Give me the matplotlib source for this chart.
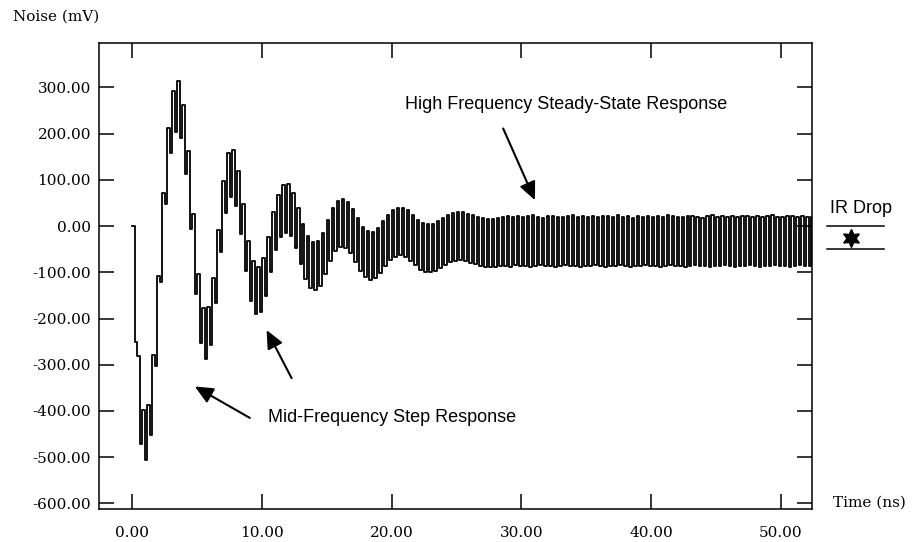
import numpy as np
import matplotlib
matplotlib.use("Agg")
import matplotlib.pyplot as plt
from matplotlib import transforms

# sampling step of the trace (half of the high-frequency ripple period), ns
time_step_ns = 0.1925

# noise trace, mV (one value per half ripple period)
noise_mv = [
    0, -250, -280, -472, -398, -505, -388, -452, -278, -302,
    -108, -122, 72, 48, 212, 158, 292, 203, 314, 190,
    262, 113, 162, -7, 27, -147, -103, -252, -178, -288,
    -176, -257, -113, -167, -8, -57, 97, 28, 158, 63,
    165, 43, 120, -17, 47, -97, -33, -162, -76, -190,
    -88, -186, -70, -152, -23, -100, 30, -52, 67, -24,
    88, -14, 90, -22, 72, -47, 40, -82, 5, -114,
    -22, -134, -34, -139, -32, -130, -14, -104, 14, -76,
    40, -55, 55, -46, 58, -47, 53, -58, 37, -77,
    17, -97, -1, -111, -11, -116, -12, -113, -4, -101,
    10, -87, 24, -74, 35, -66, 40, -63, 40, -66,
    34, -75, 24, -85, 14, -94, 7, -99, 4, -100,
    5, -97, 10, -91, 17, -84, 23, -78, 28, -75,
    30, -74, 30, -75, 27, -79, 23, -83, 19, -86,
    17, -88, 15, -89, 15,
    # steady state
    -88, 17, -87, 19, -86, 21, -88, 20, -85, 22,
    -87, 19, -86, 21, -88, 23, -87, 20, -85, 18,
    -86, 21, -87, 22, -88, 20, -86, 19, -85, 21,
    -87, 23, -86, 20, -88, 22, -87, 19, -86, 21,
    -85, 20, -87, 22, -88, 21, -86, 19, -87, 23,
    -85, 20, -86, 21, -88, 18, -87, 22, -86, 20,
    -85, 21, -87, 19, -86, 22, -88, 20, -87, 23,
    -85, 21, -86, 19, -87, 20, -88, 22, -86, 21,
    -85, 20, -87, 18, -86, 21, -88, 23, -87, 20,
    -86, 22, -85, 19, -87, 21, -88, 20, -86, 22,
    -87, 21, -85, 19, -86, 22, -88, 20, -87, 21,
    -86, 23, -85, 20, -87, 19, -86, 21, -88, 22,
    -87, 20, -85, 21, -86, 19, -87, 20,
]

x_ticks = [0, 10, 20, 30, 40, 50]
y_ticks = [300, 200, 100, 0, -100, -200, -300, -400, -500, -600]
ir_drop_levels = [0, -50]

time_ns = np.arange(len(noise_mv)) * time_step_ns

plt.rcParams['axes.unicode_minus'] = False
serif = 'DejaVu Serif'
sans = 'Liberation Sans'

fig = plt.figure(figsize=(9.15, 5.42), dpi=100)
ax = fig.add_axes([0.1085, 0.0609, 0.7792, 0.8598])

ax.plot(time_ns, noise_mv, color='black', linewidth=1.3,
        drawstyle='steps-post')

ax.set_xlim(-2.54, 52.43)
ax.set_ylim(-612, 396)
ax.set_xticks(x_ticks)
ax.set_yticks(y_ticks)
ax.set_xticklabels(['%.2f' % v for v in x_ticks], family=serif, fontsize=11)
ax.set_yticklabels(['%.2f' % v for v in y_ticks], family=serif, fontsize=11)
ax.tick_params(axis='both', direction='in', length=11, width=1.1,
               top=True, right=True)
ax.tick_params(axis='x', pad=12.5)
ax.tick_params(axis='y', pad=6)
for s in ax.spines.values():
    s.set_linewidth(1.1)

fig.text(13 / 915, 1 - 17 / 542, 'Noise (mV)', family=serif, fontsize=11,
         ha='left', va='center')
fig.text(833 / 915, 1 - 503 / 542, 'Time (ns)', family=serif, fontsize=11,
         ha='left', va='center')

arrow = dict(arrowstyle='-|>,head_length=0.55,head_width=0.25',
             color='black', lw=1.5, shrinkA=0, shrinkB=0)

ax.text(21.0, 264, 'High Frequency Steady-State Response', family=sans,
        fontsize=13, ha='left', va='center')
ax.annotate('', xy=(31.05, 56), xytext=(28.6, 211), arrowprops=arrow,
            fontsize=20)

ax.text(10.5, -415, 'Mid-Frequency Step Response', family=sans,
        fontsize=13, ha='left', va='center')
ax.annotate('', xy=(4.83, -347), xytext=(9.07, -415), arrowprops=arrow,
            fontsize=20)
ax.annotate('', xy=(10.36, -225), xytext=(12.29, -329), arrowprops=arrow,
            fontsize=20)

# IR drop marker to the right of the axes
trans = transforms.blended_transform_factory(ax.transAxes, ax.transData)
for lvl in ir_drop_levels:
    ax.plot([1.020, 1.1006], [lvl, lvl], color='black', lw=1.1,
            transform=trans, clip_on=False)
ax.plot([1.055], [np.mean(ir_drop_levels)], marker=(6, 1, 0), markersize=13,
        color='black', transform=trans, clip_on=False)
ax.text(1.025, 39, 'IR Drop', family=sans, fontsize=13, ha='left',
        va='center', transform=trans)

fig.savefig('out.png', dpi=100)
